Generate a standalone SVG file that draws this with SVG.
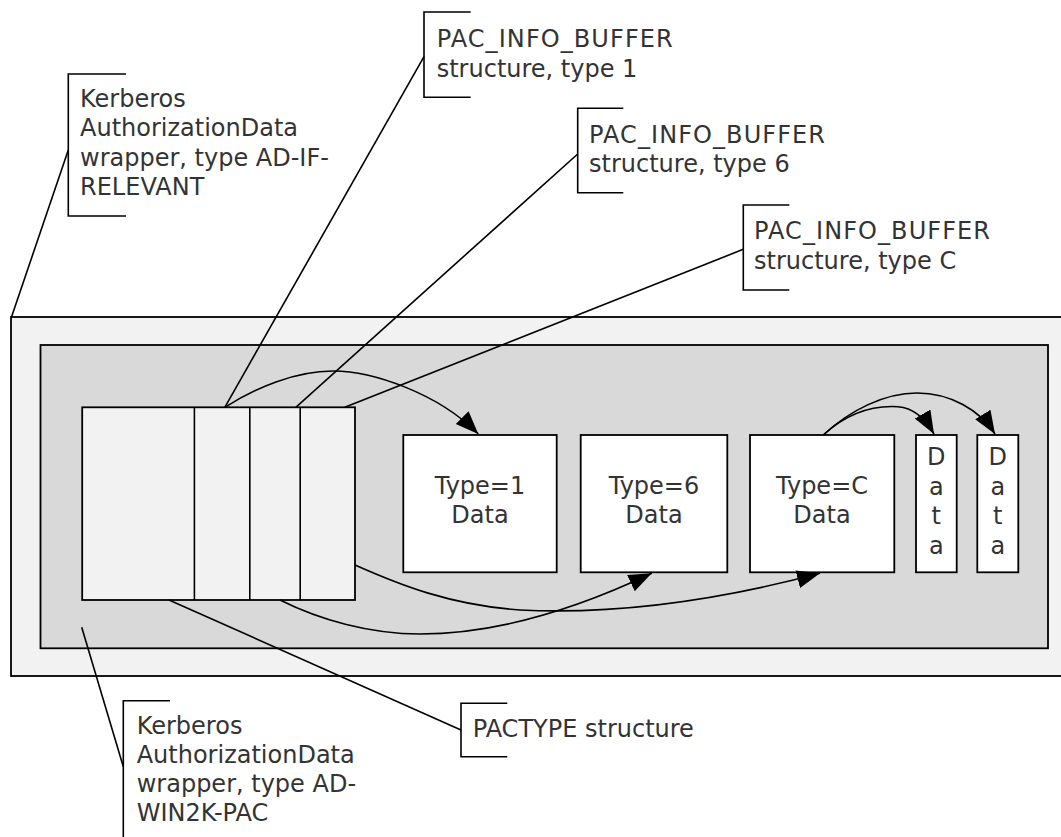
<svg xmlns="http://www.w3.org/2000/svg" width="1061" height="837" viewBox="0 0 1061 837">
<style>
.t{font-family:"DejaVu Sans","Verdana",sans-serif;font-size:24px;fill:#333}
.c{text-anchor:middle}
.ln{fill:none;stroke:#000;stroke-width:1.6}
.box{stroke:#000;stroke-width:1.8}
</style>
<defs>
<marker id="ah" markerUnits="userSpaceOnUse" markerWidth="24" markerHeight="20" refX="23" refY="9" orient="auto">
<path d="M0,0 L23,9 L0,18 z" fill="#000"/>
</marker>
</defs>
<rect width="1061" height="837" fill="#fff"/>
<g id="outer-wrapper"><rect class="box" x="11" y="317" width="1060" height="359" fill="#f2f2f2"/></g>
<g id="inner-wrapper"><rect class="box" x="40.5" y="345" width="1007.5" height="303.3" fill="#d9d9d9"/></g>
<g id="pactype">
<rect class="box" x="82.2" y="407.3" width="272.8" height="192.7" fill="#f2f2f2"/>
<line class="ln" x1="194.4" y1="407.3" x2="194.4" y2="600" stroke-width="1.8"/>
<line class="ln" x1="249.8" y1="407.3" x2="249.8" y2="600" stroke-width="1.8"/>
<line class="ln" x1="300.2" y1="407.3" x2="300.2" y2="600" stroke-width="1.8"/>
</g>
<g id="type1">
<rect class="box" x="403.3" y="435" width="153.4" height="137.3" fill="#fff"/>
<text class="t c" x="480" y="494">Type=1</text>
<text class="t c" x="480" y="523.3">Data</text>
</g>
<g id="type6">
<rect class="box" x="580.7" y="435" width="146.6" height="137.3" fill="#fff"/>
<text class="t c" x="654" y="494">Type=6</text>
<text class="t c" x="654" y="523.3">Data</text>
</g>
<g id="typeC">
<rect class="box" x="750" y="435" width="144.3" height="137.3" fill="#fff"/>
<text class="t c" x="822" y="494">Type=C</text>
<text class="t c" x="822" y="523.3">Data</text>
</g>
<g id="data1">
<rect class="box" x="916" y="435" width="40.7" height="137.3" fill="#fff"/>
<text class="t c" x="936.3" y="465">D</text>
<text class="t c" x="936.3" y="494.5">a</text>
<text class="t c" x="936.3" y="524">t</text>
<text class="t c" x="936.3" y="553.5">a</text>
</g>
<g id="data2">
<rect class="box" x="977.3" y="435" width="41" height="137.3" fill="#fff"/>
<text class="t c" x="997.8" y="465">D</text>
<text class="t c" x="997.8" y="494.5">a</text>
<text class="t c" x="997.8" y="524">t</text>
<text class="t c" x="997.8" y="553.5">a</text>
</g>
<g id="label-ad-if-relevant">
<path class="ln" d="M126,74 H68.3 V216 H126"/>
<text class="t" x="80" y="107">Kerberos</text>
<text class="t" x="80" y="136.3">AuthorizationData</text>
<text class="t" x="80" y="165.6">wrapper, type AD-IF-</text>
<text class="t" x="80" y="195">RELEVANT</text>
</g>
<g id="label-type1">
<path class="ln" d="M470.7,12 H424 V97.3 H470.7"/>
<text class="t" x="436.7" y="46.7" textLength="236" lengthAdjust="spacing">PAC_INFO_BUFFER</text>
<text class="t" x="436.7" y="76.5">structure, type 1</text>
</g>
<g id="label-type6">
<path class="ln" d="M623.3,108.3 H577.7 V192.7 H623.3"/>
<text class="t" x="589" y="142.5" textLength="236" lengthAdjust="spacing">PAC_INFO_BUFFER</text>
<text class="t" x="589" y="172.3">structure, type 6</text>
</g>
<g id="label-typeC">
<path class="ln" d="M789.3,205 H743.3 V290 H789.3"/>
<text class="t" x="754" y="239" textLength="236" lengthAdjust="spacing">PAC_INFO_BUFFER</text>
<text class="t" x="754" y="268.8">structure, type C</text>
</g>
<g id="label-pactype">
<path class="ln" d="M507.3,703.3 H461 V756.7 H507.3"/>
<text class="t" x="472.7" y="737">PACTYPE structure</text>
</g>
<g id="label-ad-win2k-pac">
<path class="ln" d="M170,700.7 H123.3 V840"/>
<text class="t" x="136.7" y="733.5">Kerberos</text>
<text class="t" x="136.7" y="762.8">AuthorizationData</text>
<text class="t" x="136.7" y="792">wrapper, type AD-</text>
<text class="t" x="136.7" y="821.3">WIN2K-PAC</text>
</g>
<g id="connectors">
<line class="ln" x1="68.3" y1="150" x2="11.5" y2="317"/>
<line class="ln" x1="424" y1="56.7" x2="224.8" y2="407.3"/>
<line class="ln" x1="577.7" y1="154" x2="295.8" y2="407.3"/>
<line class="ln" x1="743.3" y1="249.3" x2="344.8" y2="407.3"/>
<line class="ln" x1="169" y1="600" x2="461" y2="730"/>
<line class="ln" x1="81.7" y1="627.3" x2="123.3" y2="766.7"/>
<path class="ln" marker-end="url(#ah)" d="M224.8,407.3 C255,388 295,371 333,371 C372,371 438,393 478.3,434"/>
<path class="ln" marker-end="url(#ah)" d="M355,565 C400,585 450,605 520,610 C600,614 700,605 820,573.3"/>
<path class="ln" marker-end="url(#ah)" d="M280,600 C320,620 370,634 420,634 C490,634 570,612 651.7,573.3"/>
<path class="ln" marker-end="url(#ah)" d="M823.3,435 C845,415 870,405 898,406.7 C915,408 926,420 934,434"/>
<path class="ln" marker-end="url(#ah)" d="M823.3,435 C850,410 885,393 917,393 C950,393 980,410 995,434"/>
</g>
</svg>
